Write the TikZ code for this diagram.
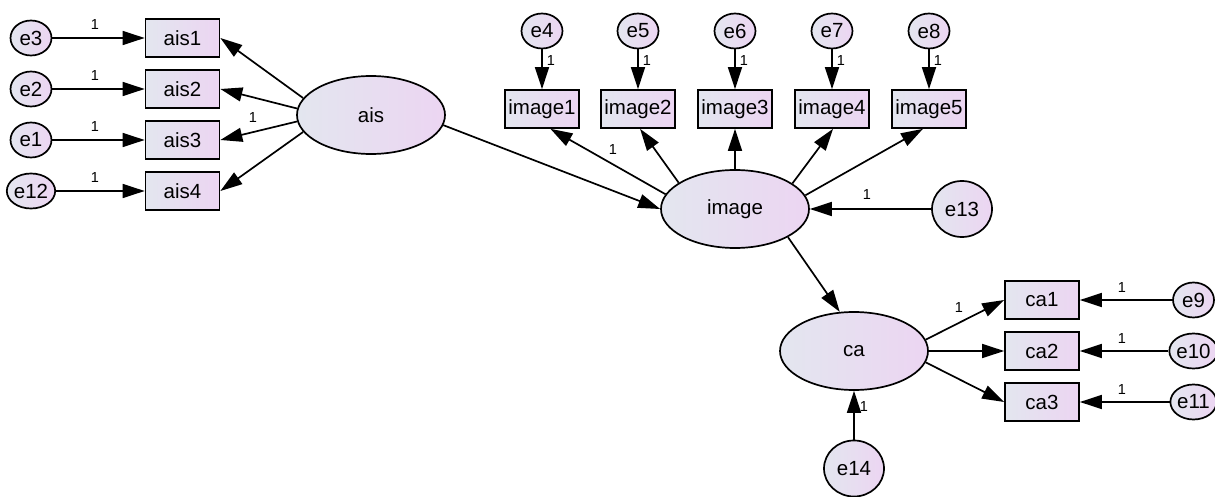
\documentclass[tikz,border=0pt]{standalone}
\usepackage{fontspec}
\setmainfont{Liberation Sans}
\usetikzlibrary{shapes.geometric,arrows.meta}
\definecolor{shL}{RGB}{227,230,239}
\definecolor{shR}{RGB}{236,213,242}
\tikzset{
  base/.style={draw=black, line width=1.7pt, inner sep=0pt, left color=shL, right color=shR, font=\fontsize{20.5}{23}\selectfont},
  lat/.style={base, ellipse, minimum width=148pt, minimum height=78pt},
  obs/.style={base, rectangle, minimum width=74pt, minimum height=38pt},
  err/.style={base, ellipse, minimum width=41pt, minimum height=35pt},
  errbig/.style={base, ellipse, minimum width=60pt, minimum height=56pt},
  pth/.style={line width=1.7pt, -{Triangle[length=22pt,width=14pt]}},
  one/.style={inner sep=0pt, font=\fontsize{14.5}{16}\selectfont}
}
\begin{document}
\begin{tikzpicture}[x=1pt,y=-1pt]
\useasboundingbox (0,0) rectangle (1215,497);
% ais block
\node[obs] (ais1) at (182.5,38) {ais1};
\node[obs] (ais2) at (182.5,89) {ais2};
\node[obs] (ais3) at (182.5,140) {ais3};
\node[obs] (ais4) at (182.5,191) {ais4};
\node[err] (e3) at (31,38) {e3};
\node[err] (e2) at (31,89) {e2};
\node[err] (e1) at (31,140) {e1};
\node[err] (e12) at (31,191) {e12};
\node[lat] (ais) at (371,115) {ais};
% image block
\node[obs] (image1) at (542,109) {image1};
\node[obs] (image2) at (638,109) {image2};
\node[obs] (image3) at (735,109) {image3};
\node[obs] (image4) at (832,109) {image4};
\node[obs] (image5) at (929,109) {image5};
\node[err] (e4) at (542,31) {e4};
\node[err] (e5) at (638,31) {e5};
\node[err] (e6) at (735,31) {e6};
\node[err] (e7) at (832,31) {e7};
\node[err] (e8) at (929,31) {e8};
\node[lat] (image) at (735,209) {image};
\node[errbig] (e13) at (962,209) {e13};
% ca block
\node[lat] (ca) at (854,351) {ca};
\node[obs] (ca1) at (1042,300) {ca1};
\node[obs] (ca2) at (1042,351) {ca2};
\node[obs] (ca3) at (1042,402) {ca3};
\node[err] (e9) at (1193.5,300) {e9};
\node[err] (e10) at (1193.5,351) {e10};
\node[err] (e11) at (1193.5,402) {e11};
\node[errbig] (e14) at (854,468.5) {e14};
% connectors: errors to ais items
\draw[pth] (e3) -- (ais1);
\draw[pth] (e2) -- (ais2);
\draw[pth] (e1) -- (ais3);
\draw[pth] (e12) -- (ais4);
\node[one] (l1) at (95,25) {1};
\node[one] (l2) at (95,76) {1};
\node[one] (l3) at (95,127) {1};
\node[one] (l4) at (95,178) {1};
% ais loadings
\draw[pth] (ais.166) -- (ais1.east);
\draw[pth] (ais.175) -- (ais2.east);
\draw[pth] (ais.185) -- (ais3.east);
\draw[pth] (ais.194) -- (ais4.east);
\node[one] (l5) at (253,118) {1};
% structural
\draw[pth] (ais.-8) -- (image.west);
\draw[pth] (image.-28) -- (ca.110);
% image loadings
\draw[pth] (image.168) -- (image1.-67);
\draw[pth] (image.155) -- (image2.-84);
\draw[pth] (image.north) -- (image3.south);
\draw[pth] (image.24) -- (image4.-87);
\draw[pth] (image.11) -- (image5.-107);
\node[one] (l6) at (613,150) {1};
\draw[pth] (e4) -- (image1);
\draw[pth] (e5) -- (image2);
\draw[pth] (e6) -- (image3);
\draw[pth] (e7) -- (image4);
\draw[pth] (e8) -- (image5);
\node[one] (l7) at (551,61) {1};
\node[one] (l8) at (647,61) {1};
\node[one] (l9) at (744,61) {1};
\node[one] (l10) at (841,61) {1};
\node[one] (l11) at (938,61) {1};
\draw[pth] (e13) -- (image.east);
\node[one] (l12) at (867,195) {1};
% ca loadings
\draw[pth] (ca.9) -- (ca1.west);
\draw[pth] (ca.east) -- (ca2.west);
\draw[pth] (ca.-9) -- (ca3.west);
\node[one] (l13) at (959,308) {1};
\draw[pth] (e9) -- (ca1);
\draw[pth] (e10) -- (ca2);
\draw[pth] (e11) -- (ca3);
\node[one] (l14) at (1122,288) {1};
\node[one] (l15) at (1122,339) {1};
\node[one] (l16) at (1122,390) {1};
\draw[pth] (e14) -- (ca);
\node[one] (l17) at (864,407) {1};
\end{tikzpicture}
\end{document}
